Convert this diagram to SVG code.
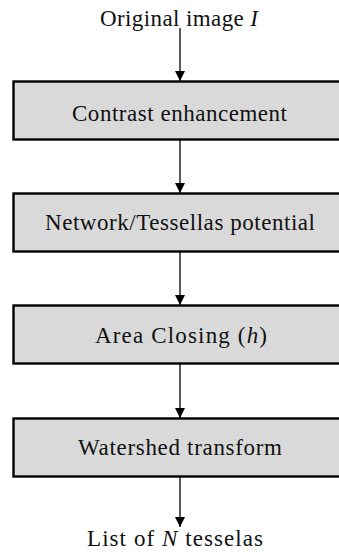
<svg xmlns="http://www.w3.org/2000/svg" width="339" height="552" viewBox="0 0 339 552">
<defs>
<marker id="ah" viewBox="0 0 10 14" refX="10" refY="5" markerWidth="10" markerHeight="14" markerUnits="userSpaceOnUse" orient="auto">
<path d="M0,0 L10,5 L0,10 Z" fill="#000"/>
</marker>
<style>
.box{fill:#d9d9d9;stroke:#000;stroke-width:2.4}
.t{font-family:"Liberation Serif","Times New Roman",serif;font-size:23px;fill:#111;text-anchor:middle}
.i{font-style:italic}
.c{stroke:#000;stroke-width:1.3;fill:none;marker-end:url(#ah)}
</style>
</defs>
<rect width="339" height="552" fill="#fff"/>
<g id="input"><text class="t" x="179" y="26" textLength="158" lengthAdjust="spacing">Original image <tspan class="i">I</tspan></text></g>
<g id="n1"><rect class="box" x="13.5" y="81.5" width="334" height="58"/><text class="t" x="179.5" y="121" textLength="215" lengthAdjust="spacing">Contrast enhancement</text></g>
<g id="n2"><rect class="box" x="13.5" y="193.5" width="334" height="58"/><text class="t" x="180" y="230" textLength="270" lengthAdjust="spacing">Network/Tessellas potential</text></g>
<g id="n3"><rect class="box" x="13.5" y="305.5" width="334" height="58"/><text class="t" x="181" y="343" textLength="172" lengthAdjust="spacing">Area Closing (<tspan class="i">h</tspan>)</text></g>
<g id="n4"><rect class="box" x="13.5" y="418.5" width="334" height="58"/><text class="t" x="180" y="455" textLength="204" lengthAdjust="spacing">Watershed transform</text></g>
<g id="output"><text class="t" x="175" y="546" textLength="176" lengthAdjust="spacing">List of <tspan class="i">N</tspan> tesselas</text></g>
<g id="connectors">
<path class="c" d="M180,28 V81"/>
<path class="c" d="M180,140 V193"/>
<path class="c" d="M180,252 V305"/>
<path class="c" d="M180,364 V418"/>
<path class="c" d="M180,477 V527"/>
</g>
</svg>
